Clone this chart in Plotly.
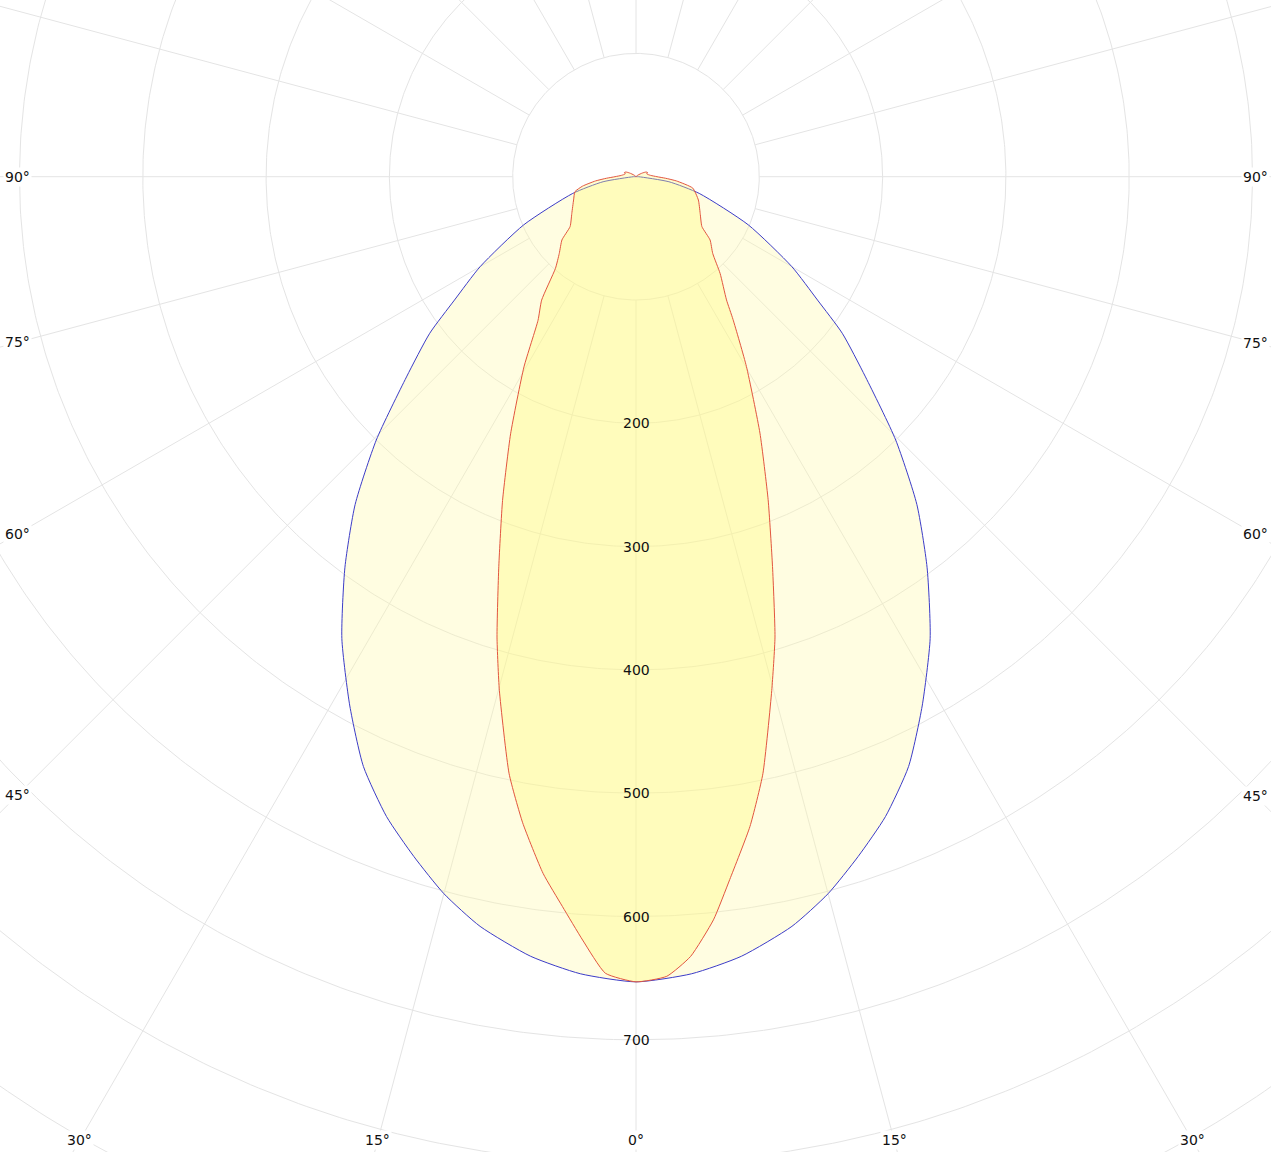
import numpy as np
import plotly.graph_objects as go

# ---------------- data (cd/klm), angle 0 = nadir ----------------
blue_angles = [0, 4, 7.7, 11.75, 15, 18.1, 21.3, 24.8, 28.4, 32.5, 36.7, 40.6, 44.6, 48.9, 52.8, 55.8, 60, 66.8,
               75.2, 81.3, 90, 100, 120, 150, 180]
blue_vals   = [653, 648, 638, 621, 602, 580, 557, 527, 488, 444, 395, 350, 300, 247, 210, 178, 146, 99,
               53, 27, 2, 0, 0, 0, 0]

red_angles_l = [0, 2.2, 4, 5.75, 7.6, 9.95, 12, 14.9, 16.8, 19.4, 22.4, 26, 30.5, 34.3, 37.4, 41.3, 45, 49.5, 52.9,
                60.2, 69.6, 76.2, 80, 84, 87, 90, 95, 100, 105, 110, 115, 120, 130, 140, 160, 180]
red_left     = [653, 646.5, 620.6, 595, 570, 532, 495, 431, 390, 335, 284, 232, 179, 141, 126, 99, 88, 79, 67,
                60, 54, 51, 44, 33, 24, 17, 12, 10, 9, 10, 9, 6, 2, 0, 0, 0]
red_angles_r = [0, 2.2, 4, 5.95, 7.6, 9.95, 12, 14.8, 16.8, 19.3, 22.25, 25.8, 30.2, 34.2, 36.3, 41, 45, 49.5, 52.9,
                60.2, 69.5, 78.6, 84, 87, 90, 95, 100, 105, 110, 115, 120, 130, 140, 160, 180]
red_right    = [653, 649, 634, 606, 575, 535, 495, 431, 390, 335, 283, 231, 178, 140, 124, 104, 88, 79, 67,
                60, 54, 47, 33, 24, 17, 12, 10, 9, 10, 9, 6, 2, 0, 0, 0]

grid_radii = [100, 200, 300, 400, 500, 600, 700, 800, 900, 1000]
radial_labels = [200, 300, 400, 500, 600, 700]
angle_labels = [-90, -75, -60, -45, -30, -15, 0, 15, 30, 45, 60, 75, 90]

# ---------------- layout geometry ----------------
W, H = 1271, 1152
CX, CY = 636.0, 176.7     # pixel position of the pole
S = 1.233                 # pixels per unit

def to_xy(ang_deg, r):
    a = np.radians(np.asarray(ang_deg, dtype=float))
    r = np.asarray(r, dtype=float)
    return r * np.sin(a), -r * np.cos(a)

def px_to_data(px, py):
    return (px - CX) / S, -(py - CY) / S

fig = go.Figure()
GRID = "#e4e4e4"

# circles
t = np.linspace(0, 360, 721)
for rr in grid_radii:
    x, y = to_xy(t, np.full_like(t, rr))
    fig.add_trace(go.Scatter(x=x, y=y, mode="lines", line=dict(color=GRID, width=1),
                             hoverinfo="skip", showlegend=False))
# spokes every 15 deg, starting at r=100
for a in range(0, 360, 15):
    x, y = to_xy([a, a], [100, 1300])
    fig.add_trace(go.Scatter(x=x, y=y, mode="lines", line=dict(color=GRID, width=1),
                             hoverinfo="skip", showlegend=False))

def closed_path(ang_l, left, ang_r, right):
    angs = [-a for a in ang_l[::-1]] + list(ang_r[1:])
    vals = list(left[::-1]) + list(right[1:])
    return to_xy(angs, vals)

bx, by = closed_path(blue_angles, blue_vals, blue_angles, blue_vals)
fig.add_trace(go.Scatter(x=bx, y=by, mode="lines", fill="toself",
                         fillcolor="rgba(255,250,170,0.35)",
                         line=dict(color="#3c3cc8", width=1, shape="spline", smoothing=0.6),
                         name="C0-C180", showlegend=False))
rx, ry = closed_path(red_angles_l, red_left, red_angles_r, red_right)
fig.add_trace(go.Scatter(x=rx, y=ry, mode="lines", fill="toself",
                         fillcolor="rgba(255,248,120,0.35)",
                         line=dict(color="#e2553f", width=1, shape="spline", smoothing=0.5),
                         name="C90-C270", showlegend=False))

annotations = []
FONT = dict(family="DejaVu Sans, Verdana, sans-serif", size=14, color="#111111")
for rv in radial_labels:
    annotations.append(dict(x=0, y=-rv, xref="x", yref="y", text=str(rv), showarrow=False,
                            font=FONT, xanchor="center", yanchor="middle"))

LEFT_X, RIGHT_X, BOTTOM_Y = 17.5, 1255.0, 1140.0
for a in angle_labels:
    dx, dy = np.sin(np.radians(a)), np.cos(np.radians(a))
    cands = []
    if dx > 1e-9:
        cands.append((RIGHT_X - CX) / dx)
    if dx < -1e-9:
        cands.append((LEFT_X - CX) / dx)
    if dy > 1e-9:
        cands.append((BOTTOM_Y - CY) / dy)
    tt = min(cands)
    px, py = CX + tt * dx, CY + tt * dy
    xd, yd = px_to_data(px, py)
    annotations.append(dict(x=xd, y=yd, xref="x", yref="y", text=f"{abs(a)}°", showarrow=False,
                            font=FONT, xanchor="center", yanchor="middle",
                            bgcolor="white", borderpad=1))

x0, y1 = px_to_data(0, 0)
x1, y0 = px_to_data(W, H)
fig.update_layout(
    width=W, height=H,
    margin=dict(l=0, r=0, t=0, b=0),
    paper_bgcolor="white", plot_bgcolor="white",
    xaxis=dict(range=[x0, x1], visible=False, fixedrange=True),
    yaxis=dict(range=[y0, y1], visible=False, fixedrange=True),
    annotations=annotations,
    showlegend=False,
)
fig.write_html("out.html",
               post_script="document.body.style.margin='0';document.body.style.overflow='hidden';",
               config={"displayModeBar": False})
